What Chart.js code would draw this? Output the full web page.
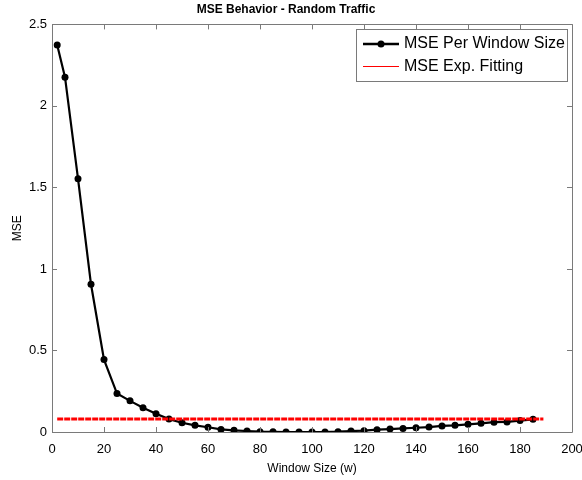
<!DOCTYPE html>
<html>
<head>
<meta charset="utf-8">
<script src="https://cdn.jsdelivr.net/npm/chart.js@4"></script>
<style>
  html, body { margin: 0; padding: 0; background: #fff; }
  #wrap { width: 582px; height: 480px; }
</style>
</head>
<body>
<div id="wrap"><canvas id="mseChart" width="582" height="480"></canvas></div>
<script>
// window sizes (w) and measured MSE
const windowSizes = [2, 5, 10, 15, 20, 25, 30, 35, 40, 45, 50, 55, 60, 65, 70, 75, 80, 85, 90, 95,
  100, 105, 110, 115, 120, 125, 130, 135, 140, 145, 150, 155, 160, 165, 170, 175, 180, 185];
const mseValues = [2.373, 2.176, 1.554, 0.906, 0.444, 0.236, 0.191, 0.149, 0.112, 0.079, 0.057, 0.041,
  0.029, 0.016, 0.010, 0.006, 0.002, 0.001, 0.0, 0.0,
  0.0, 0.0, 0.002, 0.006, 0.008, 0.014, 0.018, 0.022, 0.026, 0.030, 0.037, 0.041,
  0.047, 0.053, 0.060, 0.062, 0.070, 0.078];
// exponential fit level, flat over the range
const fitRange = [2, 189];
const fitValue = 0.079;

const xTicks = [0, 20, 40, 60, 80, 100, 120, 140, 160, 180, 200];
const yTicks = [0, 0.5, 1, 1.5, 2, 2.5];

const FONT = 'Liberation Sans, Arial, Helvetica, sans-serif';

const mseData = windowSizes.map((w, i) => ({ x: w, y: mseValues[i] }));
const fitData = fitRange.map(w => ({ x: w, y: fitValue }));

// matlab style box with inward ticks
const boxPlugin = {
  id: 'boxPlugin',
  afterDatasetsDraw(chart) {
    const ctx = chart.ctx;
    const a = chart.chartArea;
    const xs = chart.scales.x, ys = chart.scales.y;
    ctx.save();
    ctx.strokeStyle = '#7a7a7a';
    ctx.lineWidth = 1;
    ctx.beginPath();
    ctx.rect(Math.round(a.left) + 0.5, Math.round(a.top) + 0.5,
      Math.round(a.right - a.left), Math.round(a.bottom - a.top));
    ctx.stroke();
    ctx.beginPath();
    xTicks.forEach(v => {
      const px = Math.round(xs.getPixelForValue(v)) + 0.5;
      ctx.moveTo(px, a.bottom); ctx.lineTo(px, a.bottom - 5);
      ctx.moveTo(px, a.top); ctx.lineTo(px, a.top + 5);
    });
    yTicks.forEach(v => {
      const py = Math.round(ys.getPixelForValue(v)) + 0.5;
      ctx.moveTo(a.left, py); ctx.lineTo(a.left + 5, py);
      ctx.moveTo(a.right, py); ctx.lineTo(a.right - 5, py);
    });
    ctx.stroke();

    // legend box
    const lx = 356.5, ly = 29.5, lw = 211, lh = 52;
    ctx.fillStyle = '#fff';
    ctx.fillRect(lx, ly, lw, lh);
    ctx.strokeStyle = '#7a7a7a';
    ctx.strokeRect(lx, ly, lw, lh);

    ctx.strokeStyle = '#000';
    ctx.lineWidth = 2.5;
    ctx.beginPath(); ctx.moveTo(363, 44); ctx.lineTo(399, 44); ctx.stroke();
    ctx.fillStyle = '#000';
    ctx.beginPath(); ctx.arc(381, 44, 3.5, 0, Math.PI * 2); ctx.fill();

    ctx.strokeStyle = '#ff0000';
    ctx.lineWidth = 1;
    ctx.beginPath(); ctx.moveTo(363, 66.5); ctx.lineTo(399, 66.5); ctx.stroke();

    ctx.fillStyle = '#000';
    ctx.font = '16px ' + FONT;
    ctx.textBaseline = 'middle';
    ctx.textAlign = 'left';
    ctx.fillText('MSE Per Window Size', 404, 44);
    ctx.fillText('MSE Exp. Fitting', 404, 67);
    ctx.restore();
  }
};

new Chart(document.getElementById('mseChart'), {
  type: 'line',
  data: {
    datasets: [
      {
        label: 'MSE Exp. Fitting',
        data: fitData,
        borderColor: '#ff0000',
        borderWidth: 3,
        borderDash: [6, 1],
        pointRadius: 0,
        fill: false
      },
      {
        label: 'MSE Per Window Size',
        data: mseData,
        borderColor: '#000',
        backgroundColor: '#000',
        borderWidth: 2.2,
        pointRadius: 3.5,
        pointBackgroundColor: '#000',
        pointBorderWidth: 0,
        tension: 0,
        fill: false
      }
    ]
  },
  options: {
    responsive: false,
    animation: false,
    layout: { padding: { left: 0, right: 10, top: 0, bottom: 0 } },
    plugins: {
      legend: { display: false },
      tooltip: { enabled: false },
      title: {
        display: true,
        text: 'MSE Behavior - Random Traffic',
        color: '#000',
        font: { family: FONT, size: 12, weight: 'bold' },
        padding: { top: 2, bottom: 8 }
      }
    },
    scales: {
      x: {
        type: 'linear',
        min: 0, max: 200,
        afterBuildTicks: s => { s.ticks = xTicks.map(v => ({ value: v })); },
        afterFit: s => { s.height = 48; s.paddingRight = 0; s.paddingLeft = 0; },
        grid: { display: false, drawTicks: false },
        border: { display: false },
        ticks: { color: '#000', font: { family: FONT, size: 13 }, padding: 10, maxRotation: 0 },
        title: {
          display: true, text: 'Window Size (w)', color: '#000',
          font: { family: FONT, size: 12 }, padding: { top: 0 }
        }
      },
      y: {
        min: 0, max: 2.5,
        afterBuildTicks: s => { s.ticks = yTicks.map(v => ({ value: v })); },
        afterFit: s => { s.width = 52; },
        grid: { display: false, drawTicks: false },
        border: { display: false },
        ticks: {
          color: '#000', font: { family: FONT, size: 13 }, padding: 5,
          callback: v => String(v)
        },
        title: {
          display: true, text: 'MSE', color: '#000',
          font: { family: FONT, size: 12 }, padding: { top: 10, bottom: 0 }
        }
      }
    }
  },
  plugins: [boxPlugin]
});
</script>
</body>
</html>
